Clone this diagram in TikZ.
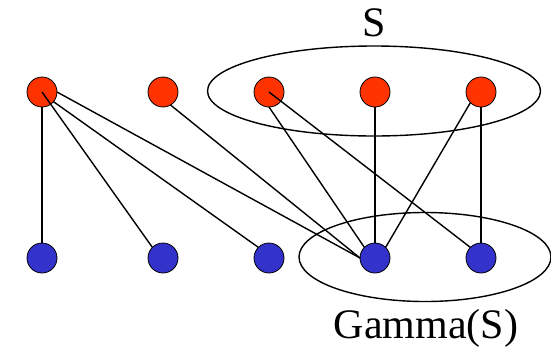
\documentclass[tikz,border=0pt]{standalone}
\usepackage{fontspec}
\setmainfont{Liberation Serif}
\usetikzlibrary{positioning,shapes.geometric}
\definecolor{Vermilion}{HTML}{FF3300}
\definecolor{Indigo}{HTML}{3333CC}
\tikzset{
  top dot/.style={circle,draw=black,thick,fill=Vermilion,minimum size=30pt,
    inner sep=0pt,outer sep=0pt},
  bottom dot/.style={circle,draw=black,thick,fill=Indigo,minimum size=30pt,
    inner sep=0pt,outer sep=0pt},
  set ring/.style={ellipse,draw=black,line width=1.4pt,inner sep=0pt},
  set label/.style={font=\fontsize{42}{44}\selectfont,inner sep=0pt},
  graph edge/.style={line width=1.4pt,draw=black},
  heavy edge/.style={line width=2.8pt,draw=black}
}

\begin{document}
\begin{tikzpicture}[x=1pt,y=-1pt,node distance=76pt]
  \useasboundingbox (0,0) rectangle (551,346);
  \node[set ring,minimum width=333pt,minimum height=90pt] (S) at (374,91) {};
  \node[set ring,minimum width=252pt,minimum height=89pt] (gammaS) at (425,257) {};
  \node[set label,anchor=base] (Slabel) at (374,36) {S};
  \node[set label,anchor=base] (gammalabel) at (426,338) {Gamma(S)};
  \node[top dot] (r1) at (42,92) {};
  \node[top dot,right=91pt of r1] (r2) {};
  \node[top dot,right=of r2] (r3) {};
  \node[top dot,right=of r3] (r4) {};
  \node[top dot,right=of r4] (r5) {};
  \node[bottom dot,below=136pt of r1] (b1) {};
  \node[bottom dot,below=136pt of r2] (b2) {};
  \node[bottom dot,below=136pt of r3] (b3) {};
  \node[bottom dot,below=136pt of r4] (b4) {};
  \node[bottom dot,below=136pt of r5] (b5) {};
  \draw[graph edge] (r1) -- (b1);
  \draw[graph edge] (r1.center) -- (b2.north west);
  \draw[graph edge] (r1.-40) -- (b3.north west);
  \draw[graph edge] (r1.east) -- (b4.west);
  \draw[graph edge] (r2.-60) -- (b4.west);
  \draw[graph edge] (r3.south) -- (b4.north west);
  \draw[graph edge] (r3.center) -- (b5.north west);
  \draw[graph edge] (r4) -- (b4);
  \draw[graph edge] (r5.south west) -- (b4.north east);
  \draw[heavy edge] (r5) -- (b5);
\end{tikzpicture}
\end{document}
